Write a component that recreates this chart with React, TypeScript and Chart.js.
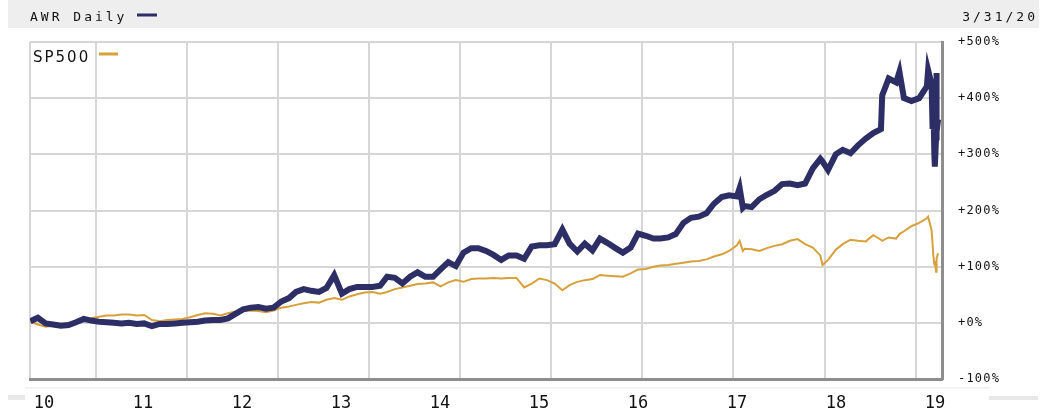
import { useEffect, useRef } from 'react';
import { Chart, registerables } from 'chart.js';

Chart.register(...registerables);

// ---- data ----
const dates = [
  '2010-04-15', '2010-05-15', '2010-06-15', '2010-07-15', '2010-08-15', '2010-09-15', '2010-10-15', '2010-11-15', '2010-12-15',
  '2011-01-15', '2011-02-15', '2011-03-15', '2011-04-15', '2011-05-15', '2011-06-15', '2011-07-15', '2011-08-15', '2011-09-15', '2011-10-15', '2011-11-15', '2011-12-15',
  '2012-01-15', '2012-02-15', '2012-03-15', '2012-04-15', '2012-05-15', '2012-06-15', '2012-07-15', '2012-08-15', '2012-09-15', '2012-10-15', '2012-11-15', '2012-12-15',
  '2013-01-15', '2013-02-15', '2013-03-15', '2013-04-15', '2013-05-15', '2013-06-15', '2013-07-15', '2013-08-15', '2013-09-15', '2013-10-15', '2013-11-15', '2013-12-15',
  '2014-01-15', '2014-02-15', '2014-03-15', '2014-04-15', '2014-05-15', '2014-06-15', '2014-07-15', '2014-08-15', '2014-09-15', '2014-10-15', '2014-11-15', '2014-12-15',
  '2015-01-15', '2015-02-15', '2015-03-15', '2015-04-15', '2015-05-15', '2015-06-15', '2015-07-15', '2015-08-15', '2015-09-15', '2015-10-15', '2015-11-15', '2015-12-15',
  '2016-01-15', '2016-02-15', '2016-03-15', '2016-04-15', '2016-05-15', '2016-06-15', '2016-07-15', '2016-08-15', '2016-09-15', '2016-10-15', '2016-11-15', '2016-12-15',
  '2017-01-15', '2017-02-15', '2017-03-15', '2017-04-15', '2017-05-15', '2017-06-15', '2017-07-15', '2017-08-15', '2017-09-15', '2017-10-15', '2017-11-15', '2017-12-15',
  '2018-01-15', '2018-01-26', '2018-02-08', '2018-02-15', '2018-03-15', '2018-04-15', '2018-05-15', '2018-06-15', '2018-07-15', '2018-08-15', '2018-09-15', '2018-10-15', '2018-11-15', '2018-12-15', '2018-12-24',
  '2019-01-15', '2019-02-15', '2019-03-15', '2019-04-15', '2019-05-15', '2019-06-15', '2019-07-15', '2019-08-15', '2019-08-20', '2019-09-15', '2019-10-15', '2019-10-28', '2019-11-15', '2019-12-15',
  '2020-01-15', '2020-02-15', '2020-02-20', '2020-03-05', '2020-03-09', '2020-03-12', '2020-03-16', '2020-03-18', '2020-03-23', '2020-03-24', '2020-03-26', '2020-03-31',
];

const awrValues = [
  3, 9, -1, -3, -5, -4, 1, 7, 4,
  2, 1, 0, -1, 0, -2, -1, -6, -2, -2, -1, 0,
  1, 2, 4, 5, 5, 8, 16, 24, 27, 28, 25, 27,
  38, 44, 55, 60, 57, 55, 62, 85, 52, 60, 64, 64,
  64, 66, 82, 80, 70, 82, 90, 82, 82, 95, 108, 101,
  125, 133, 133, 128, 121, 112, 120, 120, 114, 136, 138, 138,
  140, 166, 141, 127, 141, 129, 150, 142, 133, 125, 134, 159,
  155, 150, 150, 152, 158, 178, 187, 189, 195, 212, 224, 227,
  225, 240, 205, 208, 206, 220, 228, 235, 247, 248, 245, 248, 275, 292, 287,
  272, 300, 308, 302, 316, 328, 338, 345, 405, 435, 428, 447, 400, 395,
  400, 421, 450, 425, 345, 395, 300, 278, 330, 445, 340, 362,
];

const sp500Values = [
  2, -3, -7, -5, -4, -1, 3, 5, 8,
  11, 13, 13, 15, 15, 13, 14, 5, 3, 5, 6, 7,
  10, 14, 17, 16, 13, 17, 20, 21, 22, 21, 19, 22,
  27, 29, 32, 35, 37, 36, 41, 44, 41, 47, 51, 54,
  55, 52, 55, 60, 63, 66, 69, 70, 72, 65, 72, 76,
  73, 78, 79, 79, 80, 79, 80, 80, 63, 70, 79, 76,
  70, 58, 67, 73, 76, 78, 85, 84, 83, 82, 88, 95,
  96, 100, 102, 103, 105, 107, 109, 110, 113, 118, 122, 128,
  138, 146, 128, 132, 131, 128, 133, 137, 140, 146, 149, 140, 134, 120, 103,
  112, 130, 140, 148, 146, 145, 156, 148, 146, 152, 150, 158, 163, 172,
  178, 186, 189, 165, 140, 120, 104, 110, 91, 110, 115, 124,
];

const seriesNames = ['AWR Daily', 'SP500'];
const seriesColors = ['#2e2e66', '#d8a03a'];
const lastDateLabel = '3/31/20';
const yTicks = [-100, 0, 100, 200, 300, 400, 500];
const gridYears = [2011, 2012, 2013, 2014, 2015, 2016, 2017, 2018, 2019, 2020];
const xTickLabels = ['10', '11', '12', '13', '14', '15', '16', '17', '18', '19'];

// visible time window of the plot (decimal years)
const X_MIN = 2010.281;
const X_MAX = 2020.289;
// the label row of the reference is offset from the grid; its own index scale
const XL_MIN = -0.1414;
const XL_MAX = 9.0707;

function toYear(s: string): number {
  const [y, m, d] = s.split('-').map(Number);
  const start = Date.UTC(y, 0, 1);
  const end = Date.UTC(y + 1, 0, 1);
  return y + (Date.UTC(y, m - 1, d) - start) / (end - start);
}

const MONO = '"DejaVu Sans Mono", monospace';

const decor = {
  id: 'decor',
  beforeDraw(chart: any) {
    const ctx = chart.ctx as CanvasRenderingContext2D;
    ctx.save();
    ctx.fillStyle = '#eeeeee';
    ctx.fillRect(8, 0, 1031, 28);
    ctx.fillStyle = '#e8e8e8';
    ctx.fillRect(8, 395, 17, 5);
    ctx.fillRect(989, 396, 49, 4);
    ctx.fillStyle = '#efefef';
    ctx.fillRect(25, 387, 965, 1.5);
    ctx.restore();
    (ctx as any).letterSpacing = '1.2px';
  },
  afterDatasetsDraw(chart: any) {
    (chart.ctx as any).letterSpacing = '0px';
  },
  afterDraw(chart: any) {
    const ctx = chart.ctx as CanvasRenderingContext2D;
    const ds = chart.data.datasets;
    ctx.save();
    (ctx as any).letterSpacing = '3px';
    ctx.font = `13px ${MONO}`;
    ctx.fillStyle = '#111';
    ctx.textBaseline = 'alphabetic';
    ctx.textAlign = 'left';
    ctx.fillText(ds[0].label, 30, 21);
    ctx.textAlign = 'right';
    ctx.fillText(lastDateLabel, 1038, 21);
    ctx.fillStyle = ds[0].borderColor;
    ctx.fillRect(137, 13.5, 20, 3);

    (ctx as any).letterSpacing = '2px';
    ctx.font = '15px "DejaVu Sans", sans-serif';
    ctx.textAlign = 'left';
    ctx.fillStyle = '#111';
    ctx.fillText(ds[1].label, 33, 62);
    ctx.fillStyle = ds[1].borderColor;
    ctx.fillRect(99, 52.5, 19, 3);
    ctx.restore();
  },
};

export default function App() {
  const ref = useRef<HTMLCanvasElement | null>(null);

  useEffect(() => {
    if (!ref.current) return;
    const xs = dates.map(toYear);
    const chart = new Chart(ref.current, {
      type: 'line',
      data: {
        datasets: [
          {
            label: seriesNames[0],
            data: xs.map((x, i) => ({ x, y: awrValues[i] })),
            borderColor: seriesColors[0],
            backgroundColor: seriesColors[0],
            borderWidth: 6,
            pointRadius: 0,
            tension: 0,
            borderJoinStyle: 'miter',
            xAxisID: 'x',
            yAxisID: 'y',
          },
          {
            label: seriesNames[1],
            data: xs.map((x, i) => ({ x, y: sp500Values[i] })),
            borderColor: seriesColors[1],
            backgroundColor: seriesColors[1],
            borderWidth: 2,
            pointRadius: 0,
            tension: 0,
            xAxisID: 'x',
            yAxisID: 'y',
          },
        ],
      },
      options: {
        animation: false,
        responsive: false,
        devicePixelRatio: 1,
        layout: { padding: { left: 30, top: 42, right: 0, bottom: 0 } },
        plugins: { legend: { display: false }, tooltip: { enabled: false } },
        scales: {
          x: {
            type: 'linear',
            position: 'bottom',
            weight: 0,
            min: X_MIN,
            max: X_MAX,
            afterBuildTicks: (s: any) => {
              s.ticks = [X_MIN, ...gridYears].map((v) => ({ value: v }));
            },
            afterFit: (s: any) => {
              s.height = 0;
            },
            ticks: { display: false },
            grid: { color: '#d6d6d6', lineWidth: 2, drawTicks: false },
            border: { display: true, color: '#8e8e8e', width: 3, z: 1 },
          },
          xLabels: {
            type: 'linear',
            position: 'bottom',
            weight: 1,
            min: XL_MIN,
            max: XL_MAX,
            afterBuildTicks: (s: any) => {
              s.ticks = xTickLabels.map((_, i) => ({ value: i }));
            },
            afterFit: (s: any) => {
              s.height = 34;
            },
            grid: { display: false, drawTicks: false },
            border: { display: false },
            ticks: {
              autoSkip: false,
              maxRotation: 0,
              padding: 14,
              z: 1,
              color: '#111',
              font: { family: MONO, size: 17 },
              callback: (v: any) => xTickLabels[Math.round(Number(v))] ?? '',
            },
          },
          y: {
            type: 'linear',
            position: 'right',
            min: -100,
            max: 500,
            afterBuildTicks: (s: any) => {
              s.ticks = yTicks.map((v) => ({ value: v }));
            },
            afterFit: (s: any) => {
              s.width = 105;
            },
            grid: { color: '#d6d6d6', lineWidth: 2, drawTicks: false },
            border: { color: '#8e8e8e', width: 3, z: 1 },
            ticks: {
              padding: 16,
              color: '#111',
              font: { family: MONO, size: 12 },
              callback: (v: any) => (Number(v) >= 0 ? '+' : '') + v + '%',
            },
          },
        },
      },
      plugins: [decor],
    } as any);
    return () => chart.destroy();
  }, []);

  return (
    <div style={{ position: 'absolute', left: 0, top: 0, width: 1047, height: 413, background: '#fff' }}>
      <canvas ref={ref} width={1047} height={413} style={{ display: 'block' }} />
    </div>
  );
}
